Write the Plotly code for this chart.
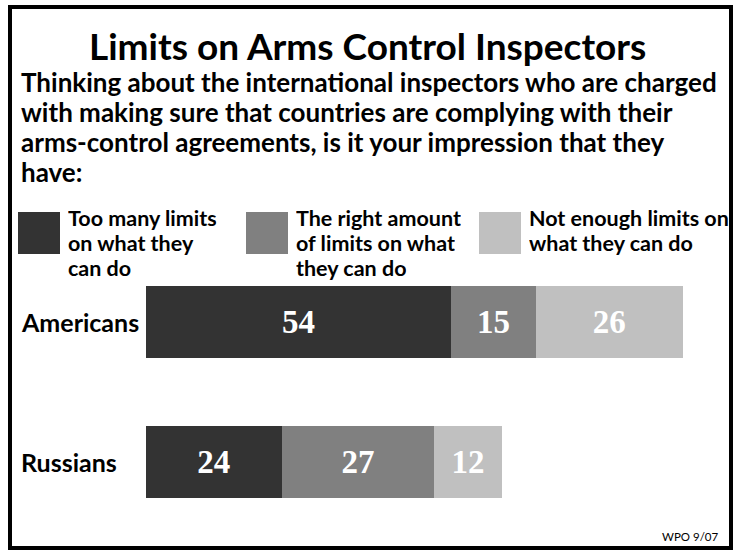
import plotly.graph_objects as go

W, H = 733, 551

groups = ['Americans', 'Russians']
answers = ['Too many limits<br>on what they<br>can do',
           'The right amount<br>of limits on what<br>they can do',
           'Not enough limits on<br>what they can do']
too_many = [54, 24]
right_amount = [15, 27]
not_enough = [26, 12]
colors = ['#333333', '#808080', '#c0c0c0']

title = 'Limits on Arms Control Inspectors'
question_lines = [
    'Thinking about the international inspectors who are charged',
    'with making sure that countries are complying with their',
    'arms-control agreements, is it your impression that they',
    'have:',
]
source = 'WPO 9/07'

SANS = 'Lato, sans-serif'
SERIF = 'Liberation Serif, Times New Roman, serif'

# plot area in pixels
L, R, T, B = 146, 22, 252, 19
PW, PH = W - L - R, H - T - B


def px(x):
    return (x - L) / PW


def py(y):
    return (H - B - y) / PH


fig = go.Figure()
for vals, name, col in zip([too_many, right_amount, not_enough], answers, colors):
    fig.add_trace(go.Bar(
        y=groups, x=vals, orientation='h', name=name,
        marker=dict(color=col, line=dict(width=0)),
        width=0.51,
        text=[str(v) for v in vals], texttemplate='<b>%{text}</b>', textposition='inside',
        insidetextanchor='middle', constraintext='none',
        textfont=dict(family=SERIF, size=33, color='white'),
        showlegend=False, hoverinfo='skip',
    ))

ann = []
ann.append(dict(text='<b>' + title + '</b>', x=px(367), y=py(45), xref='paper', yref='paper',
                xanchor='center', yanchor='middle', showarrow=False,
                font=dict(family=SANS, size=37, color='black')))
for i, line in enumerate(question_lines):
    ann.append(dict(text='<b>' + line + '</b>', x=px(19), y=py(82 + 30 * i), xref='paper', yref='paper',
                    xanchor='left', yanchor='middle', showarrow=False,
                    font=dict(family=SANS, size=26, color='black')))

# legend boxes and labels (drawn by hand, one annotation per text line)
box_x = [18, 246, 479]
for bx, name, col in zip(box_x, answers, colors):
    fig.add_shape(type='rect', xref='paper', yref='paper',
                  x0=px(bx), x1=px(bx + 42), y0=py(254), y1=py(212),
                  fillcolor=col, line=dict(width=0))
    for j, part in enumerate(name.split('<br>')):
        ann.append(dict(text='<b>' + part + '</b>', x=px(bx + 48), y=py(218 + 25 * j),
                        xref='paper', yref='paper', xanchor='left', yanchor='middle',
                        showarrow=False, height=24,
                        font=dict(family=SANS, size=21.5, color='black')))

for g in groups:
    ann.append(dict(text='<b>' + g + '</b>', x=px(19), y=g, xref='paper', yref='y',
                    xanchor='left', yanchor='middle', showarrow=False,
                    font=dict(family=SANS, size=25, color='black')))

ann.append(dict(text=source, x=px(721), y=py(536), xref='paper', yref='paper',
                xanchor='right', yanchor='middle', showarrow=False,
                font=dict(family=SANS, size=11.5, color='black')))

# outer frame
fig.add_shape(type='rect', xref='paper', yref='paper',
              x0=px(10), x1=px(731), y0=py(548), y1=py(7),
              line=dict(color='black', width=4), fillcolor='rgba(0,0,0,0)')

fig.update_layout(
    width=W, height=H, barmode='stack',
    margin=dict(l=L, r=R, t=T, b=B),
    paper_bgcolor='white', plot_bgcolor='white',
    xaxis=dict(range=[0, 100], visible=False, fixedrange=True),
    yaxis=dict(range=[1.5, -0.5], visible=False, fixedrange=True),
    annotations=ann,
)

fig.write_html('out.html', config={'displayModeBar': False},
               post_script="document.body.style.margin='0';")
